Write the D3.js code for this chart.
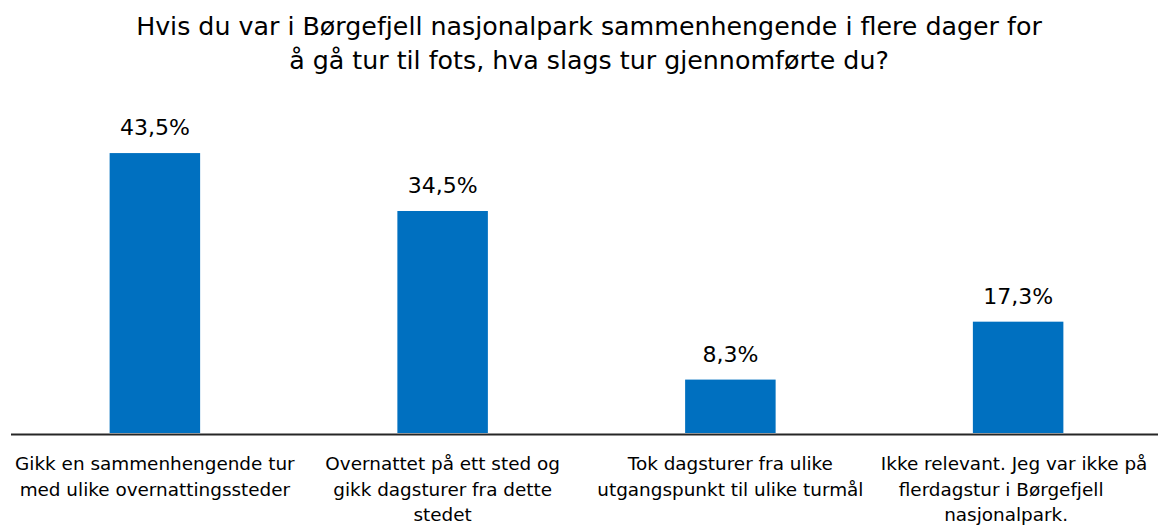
<!DOCTYPE html>
<html><head><meta charset="utf-8">
<script src="https://cdn.jsdelivr.net/npm/d3@7"></script>
<style>
html,body{margin:0;padding:0;background:#fff;}
svg{display:block;font-family:"DejaVu Sans",sans-serif;}
</style></head>
<body><svg id="c" width="1158" height="526"></svg>
<script>
const titleLines = ["Hvis du var i Børgefjell nasjonalpark sammenhengende i flere dager for",
                    "å gå tur til fots, hva slags tur gjennomførte du?"];
const categories = ["Gikk en sammenhengende tur med ulike overnattingssteder",
                    "Overnattet på ett sted og gikk dagsturer fra dette stedet",
                    "Tok dagsturer fra ulike utgangspunkt til ulike turmål",
                    "Ikke relevant. Jeg var ikke på flerdagstur i Børgefjell nasjonalpark."];
const categoryLines = [["Gikk en sammenhengende tur","med ulike overnattingssteder"],
                       ["Overnattet på ett sted og","gikk dagsturer fra dette","stedet"],
                       ["Tok dagsturer fra ulike","utgangspunkt til ulike turmål"],
                       ["Ikke relevant. Jeg var ikke på","flerdagstur i Børgefjell","nasjonalpark."]];
const values = [43.5, 34.5, 8.3, 17.3];
const valueLabels = ["43,5%","34,5%","8,3%","17,3%"];

// layout (not data)
const labelShift = [[0,0],[0,0,0],[0,0],[-4,-17,-12]];

const svg = d3.select("#c");
const x = d3.scaleBand().domain(categories).range([11, 1162]).paddingInner(0.6855).paddingOuter(0.6855/2);
const y = d3.scaleLinear().domain([0, 50]).range([433, 111.25]);

svg.append("g").selectAll("text").data(titleLines).join("text")
  .attr("x", 589).attr("y", (d,i)=>35 + i*34)
  .attr("text-anchor","middle").attr("font-size",25.3).attr("fill","#000")
  .text(d=>d);

svg.append("g").selectAll("rect").data(values).join("rect")
  .attr("x",(d,i)=>x(categories[i])).attr("width",x.bandwidth())
  .attr("y",d=>y(d)).attr("height",d=>y(0)-y(d)).attr("fill","#0070C0");

svg.append("g").selectAll("text").data(values).join("text")
  .attr("x",(d,i)=>x(categories[i])+x.bandwidth()/2).attr("y",d=>y(d)-18)
  .attr("text-anchor","middle").attr("font-size",22).attr("fill","#000")
  .text((d,i)=>valueLabels[i]);

const xAxis = svg.append("g").attr("transform","translate(0,434.5)")
  .call(d3.axisBottom(x).tickSize(0).tickFormat(""));
xAxis.select(".domain").attr("stroke","#262626").attr("stroke-width",2.2).attr("d","M11,0H1158");

const lab = svg.append("g");
categories.forEach((c,i)=>{
  const cx = x(c)+x.bandwidth()/2;
  lab.append("text").attr("text-anchor","middle").attr("font-size",18.4).attr("fill","#000")
    .selectAll("tspan").data(categoryLines[i]).join("tspan")
    .attr("x",(d,j)=>cx+labelShift[i][j]).attr("y",(d,j)=>470+j*25.5).text(d=>d);
});
</script></body></html>
